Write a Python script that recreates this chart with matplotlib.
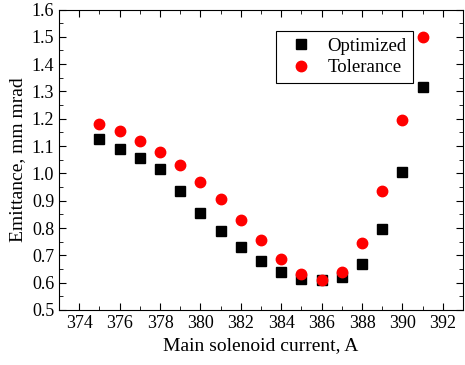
import matplotlib
matplotlib.use("Agg")
import matplotlib.pyplot as plt
from matplotlib.ticker import MultipleLocator

current = [375, 376, 377, 378, 379, 380, 381, 382, 383, 384, 385, 386, 387, 388, 389, 390, 391]
optimized = [1.125, 1.09, 1.055, 1.015, 0.935, 0.855, 0.79, 0.73, 0.68, 0.64,
             0.615, 0.61, 0.62, 0.67, 0.795, 1.005, 1.315]
tolerance = [1.18, 1.155, 1.12, 1.08, 1.03, 0.97, 0.905, 0.83, 0.755, 0.685,
             0.63, 0.61, 0.638, 0.745, 0.935, 1.195, 1.5]

plt.rcParams['font.family'] = ['Liberation Serif', 'DejaVu Serif']
plt.rcParams['font.size'] = 13

fig = plt.figure(figsize=(4.65, 3.65), dpi=100)
ax = fig.add_axes([59 / 465, 55 / 365, 404 / 465, 300.5 / 365])

ax.plot(current, optimized, 's', color='black', markersize=6.5, linestyle='none', label='Optimized')
ax.plot(current, tolerance, 'o', color='red', markersize=7.5, linestyle='none', label='Tolerance')

ax.set_xlim(373, 393)
ax.set_ylim(0.5, 1.6)
ax.xaxis.set_major_locator(MultipleLocator(2))
ax.xaxis.set_minor_locator(MultipleLocator(1))
ax.yaxis.set_major_locator(MultipleLocator(0.1))
ax.yaxis.set_minor_locator(MultipleLocator(0.05))
ax.tick_params(which='both', direction='in', top=True, right=True, labelsize=13)
ax.tick_params(which='major', length=5)
ax.tick_params(which='minor', length=3)
ax.yaxis.set_major_formatter(matplotlib.ticker.FormatStrFormatter('%.1f'))

ax.set_xlabel('Main solenoid current, A', fontsize=14)
ax.set_ylabel('Emittance, mm mrad', fontsize=14)

# legend box placed in pixel terms of the figure
leg = ax.legend(loc='upper left', bbox_to_anchor=(276 / 465, 1 - 31 / 365),
                bbox_transform=fig.transFigure, borderaxespad=0,
                fancybox=False, edgecolor='black', framealpha=1, fontsize=13.5,
                handlelength=2.0, handletextpad=0.4, borderpad=0.35, labelspacing=0.25)
leg.get_frame().set_linewidth(0.8)

fig.savefig('out.png', dpi=100)
